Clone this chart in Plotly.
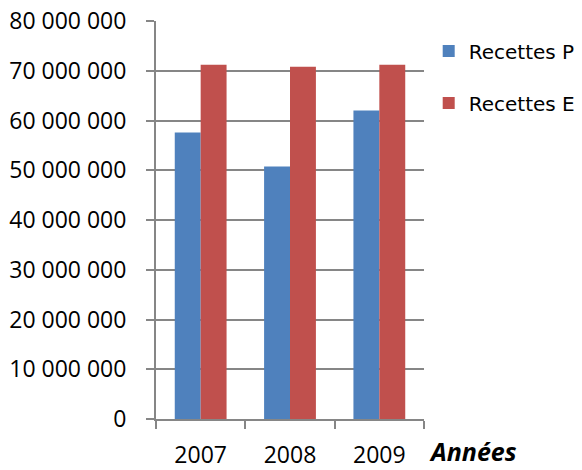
import plotly.graph_objects as go

years = ["2007", "2008", "2009"]
series_names = ["Recettes P", "Recettes E"]
recettes_p = [57_600_000, 50_750_000, 62_000_000]
recettes_e = [71_200_000, 70_800_000, 71_200_000]
y_ticks = [0, 10_000_000, 20_000_000, 30_000_000, 40_000_000, 50_000_000, 60_000_000, 70_000_000, 80_000_000]
y_ticklabels = ["0", "10 000 000", "20 000 000", "30 000 000", "40 000 000", "50 000 000", "60 000 000", "70 000 000", "80 000 000"]
x_title = "Années"

FONT = "Open Sans"
AXIS_COLOR = "#868686"

fig = go.Figure()
fig.add_trace(go.Bar(x=years, y=recettes_p, name=series_names[0], marker_color="#4F81BD",
                     marker_line_width=0, legendgroup="a"))
fig.add_trace(go.Bar(x=years, y=recettes_e, name=series_names[1], marker_color="#C0504D",
                     marker_line_width=0, legendgroup="b"))

fig.update_layout(
    width=582, height=470,
    margin=dict(l=156, r=158, t=21, b=51, autoexpand=False),
    paper_bgcolor="white", plot_bgcolor="white",
    font=dict(family=FONT, size=23, color="#000000"),
    barmode="group", bargap=0.42, bargroupgap=0,
    legend=dict(xref="container", yref="container", x=0.7366, y=0.933,
                xanchor="left", yanchor="top",
                font=dict(family="DejaVu Sans", size=20), tracegroupgap=23,
                bgcolor="rgba(0,0,0,0)"),
    showlegend=True,
)
fig.update_xaxes(
    showline=True, linecolor=AXIS_COLOR, linewidth=2, automargin=False,
    ticks="outside", tickson="boundaries", ticklen=8, tickwidth=2, tickcolor=AXIS_COLOR,
    showgrid=False, ticklabelstandoff=14,
)
fig.update_yaxes(
    range=[0, 80_000_000], tickvals=y_ticks, ticktext=y_ticklabels, automargin=False,
    showline=True, linecolor=AXIS_COLOR, linewidth=2, ticklabeloverflow="allow",
    ticks="outside", ticklen=8, tickwidth=2, tickcolor=AXIS_COLOR,
    showgrid=False, zeroline=False, ticklabelstandoff=15,
    minor=dict(tickvals=y_ticks[1:-1], showgrid=True, gridcolor=AXIS_COLOR, gridwidth=2, ticks=""),
)
fig.add_annotation(text="<b><i>" + x_title + "</i></b>", xref="paper", yref="paper",
                   x=1.012, y=-0.128, xanchor="left", yanchor="bottom", showarrow=False,
                   font=dict(family=FONT, size=25, color="#000000"))

fig.write_html("out.html", config={"displayModeBar": False},
               post_script="document.body.style.margin='0';")
